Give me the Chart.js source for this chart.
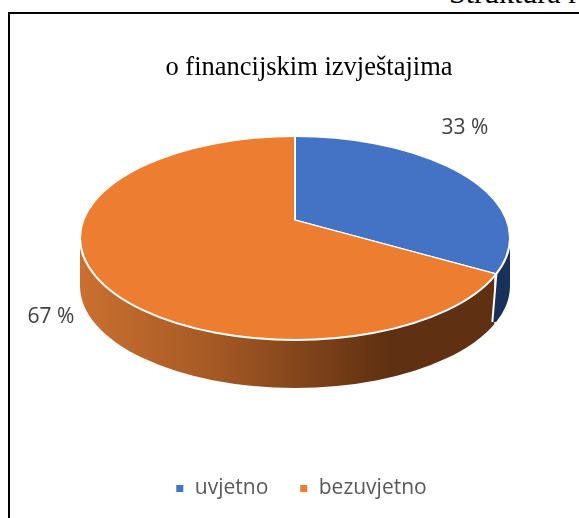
<!DOCTYPE html>
<html>
<head>
<meta charset="utf-8">
<script src="https://cdn.jsdelivr.net/npm/chart.js@4"></script>
<style>
html,body{margin:0;padding:0;background:#fff;overflow:hidden;width:579px;height:518px}
#frame{position:absolute;left:8px;top:12px;width:600px;height:600px;border:2px solid #000;box-sizing:border-box}
#head{position:absolute;left:449px;top:-24px;font:30px "Liberation Serif",serif;color:#000;white-space:nowrap}
#wrap{position:absolute;left:0;top:0;width:579px;height:518px}
</style>
</head>
<body>
<div id="frame"></div>
<div id="head">Struktura r</div>
<div id="wrap"><canvas id="c" width="579" height="518"></canvas></div>
<script>
const categories = ['uvjetno', 'bezuvjetno'];
const shares = [33, 67];
const sliceColors = ['#4472C4', '#ED7D31'];
const chartTitle = 'o financijskim izvještajima';

const APEX = {x: 295, y: 220};
const TOP = {cx: 295, cy: 238, rx: 215, ry: 102};
const DEPTH = 48;
const SQUASH = 0.488;
const LEGEND_SHIFT = -8;

function splitPoint(el) {
  const dx = Math.cos(el.endAngle), dy = Math.sin(el.endAngle) * SQUASH;
  let t = 0;
  while (t < 600) {
    const px = APEX.x + dx * t, py = APEX.y + dy * t;
    const q = ((px - TOP.cx) / TOP.rx) ** 2 + ((py - TOP.cy) / TOP.ry) ** 2;
    if (q >= 1) return {x: px, y: py};
    t += 0.25;
  }
  return {x: APEX.x, y: APEX.y};
}
function wallPath(ctx) {
  ctx.beginPath();
  ctx.ellipse(TOP.cx, TOP.cy, TOP.rx, TOP.ry, 0, 0, Math.PI);
  ctx.ellipse(TOP.cx, TOP.cy + DEPTH, TOP.rx, TOP.ry, 0, Math.PI, 0, true);
  ctx.closePath();
}
const pie3d = {
  id: 'pie3d',
  afterLayout(chart) {
    chart.legend.left += LEGEND_SHIFT;
    chart.legend.right += LEGEND_SHIFT;
  },
  beforeDatasetsDraw(chart) {
    const ctx = chart.ctx;
    const arcs = chart.getDatasetMeta(0).data;
    const sp = splitPoint(arcs[0]);
    // side wall: orange part
    ctx.save();
    ctx.beginPath();
    ctx.rect(0, 0, sp.x - 2, 518);
    ctx.clip();
    wallPath(ctx);
    const g = ctx.createLinearGradient(TOP.cx - TOP.rx, 0, TOP.cx + TOP.rx, 0);
    g.addColorStop(0, '#CA7030');
    g.addColorStop(0.3, '#A75A25');
    g.addColorStop(0.72, '#5F3011');
    g.addColorStop(1, '#5F3011');
    ctx.fillStyle = g;
    ctx.fill();
    ctx.restore();
    // side wall: blue part
    ctx.save();
    ctx.beginPath();
    ctx.moveTo(sp.x, sp.y);
    ctx.lineTo(sp.x - 4, sp.y + DEPTH);
    ctx.lineTo(579, sp.y + DEPTH);
    ctx.lineTo(579, 0);
    ctx.lineTo(sp.x, 0);
    ctx.closePath();
    ctx.clip();
    wallPath(ctx);
    ctx.fillStyle = '#19305A';
    ctx.fill();
    ctx.restore();
    // top face: library arcs, squashed about the apex and clipped to the rim
    ctx.save();
    ctx.beginPath();
    ctx.ellipse(TOP.cx, TOP.cy, TOP.rx, TOP.ry, 0, 0, Math.PI * 2);
    ctx.clip();
    ctx.translate(APEX.x, APEX.y);
    ctx.scale(1, SQUASH);
    ctx.translate(-arcs[0].x, -arcs[0].y);
  },
  afterDatasetsDraw(chart) {
    const ctx = chart.ctx;
    const arcs = chart.getDatasetMeta(0).data;
    ctx.restore();
    const sp = splitPoint(arcs[0]);
    ctx.save();
    ctx.strokeStyle = '#fff';
    ctx.lineWidth = 2;
    ctx.beginPath();
    ctx.ellipse(TOP.cx, TOP.cy, TOP.rx, TOP.ry, 0, 0, Math.PI * 2);
    ctx.stroke();
    ctx.beginPath();
    ctx.moveTo(sp.x, sp.y);
    ctx.lineTo(sp.x - 4, sp.y + DEPTH);
    ctx.stroke();
    ctx.font = '21px "Open Sans", sans-serif';
    ctx.fillStyle = '#404040';
    ctx.textAlign = 'center';
    ctx.textBaseline = 'middle';
    ctx.fillText(shares[0] + ' %', 465, 128);
    ctx.fillText(shares[1] + ' %', 51, 317);
    ctx.restore();
  }
};

new Chart(document.getElementById('c'), {
  type: 'pie',
  data: {
    labels: categories,
    datasets: [{
      data: shares,
      backgroundColor: sliceColors,
      borderColor: '#fff',
      borderWidth: 0,
      borderWidth: 2,
      radius: 320
    }]
  },
  options: {
    responsive: false,
    animation: false,
    layout: {padding: {left: 39, right: 0, bottom: 9, top: 52}},
    plugins: {
      title: {
        display: true,
        text: chartTitle,
        color: '#000',
        font: {family: '"Liberation Serif", serif', size: 26.5, weight: 'normal'},
        padding: 0
      },
      legend: {
        position: 'bottom',
        labels: {
          boxWidth: 9,
          boxHeight: 9,
          padding: 31,
          color: '#595959',
          font: {family: '"Open Sans", sans-serif', size: 21}
        }
      },
      tooltip: {enabled: false}
    }
  },
  plugins: [pie3d]
});
</script>
</body>
</html>
